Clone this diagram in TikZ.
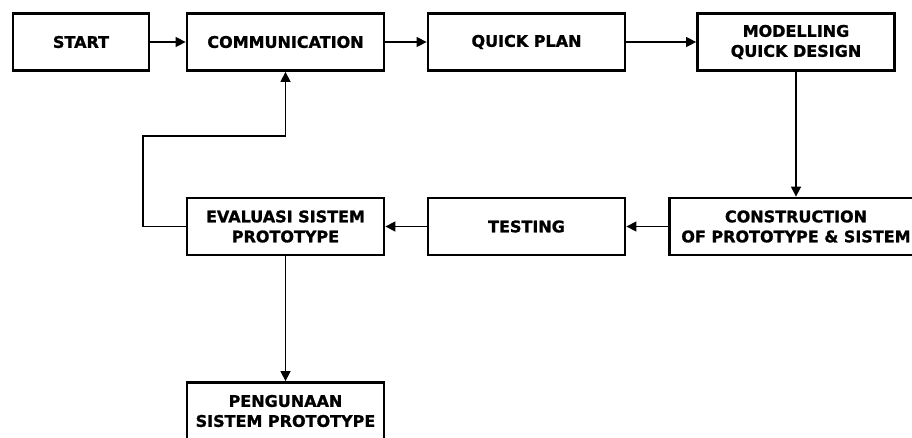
\documentclass[tikz,border=0pt]{standalone}
\usepackage{fontspec}
\setmainfont{DejaVu Sans}[BoldFeatures={FakeBold=1.2}]
\usetikzlibrary{shapes.geometric, arrows.meta}
\tikzstyle{block} = [rectangle, draw, line width=2.8pt, minimum width=197pt, minimum height=57pt, align=center, inner sep=2pt, font=\bfseries\fontsize{16}{20}\selectfont]
\tikzstyle{line} = [draw, line width=1.5pt, -{Triangle[length=10pt,width=10pt]}]

\begin{document}
\begin{tikzpicture}[node distance=241pt]
\useasboundingbox (0pt,0pt) rectangle (912pt,-437pt);

\node [block] (comm) at (285.5pt,-42pt) {COMMUNICATION};
\node [block, left of=comm, xshift=36.5pt, minimum width=136pt] (start) {START};
\node [block, right of=comm] (plan) {QUICK PLAN};
\node [block, right of=plan, xshift=28.5pt] (model) {MODELLING\\QUICK DESIGN};

\node [block, below of=comm, yshift=56.5pt] (eval) {EVALUASI SISTEM\\PROTOTYPE};
\node [block, right of=eval] (test) {TESTING};
\node [block, minimum width=253.5pt] (cons) at (796pt,-226.5pt) {CONSTRUCTION\\OF PROTOTYPE \& SISTEM};
\node [block, below of=eval, yshift=56.5pt] (peng) {PENGUNAAN\\SISTEM PROTOTYPE};

\coordinate (loop) at (143pt,-136pt);

\path [line] (start) -- (comm);
\path [line] (comm) -- (plan);
\path [line] (plan) -- (model);
\path [line] (model) -- (cons);
\path [line] (cons) -- (test);
\path [line] (test) -- (eval);
\path [line] (eval.west) -| (loop) -| (comm.south);
\path [line] (eval) -- (peng);

\end{tikzpicture}
\end{document}
